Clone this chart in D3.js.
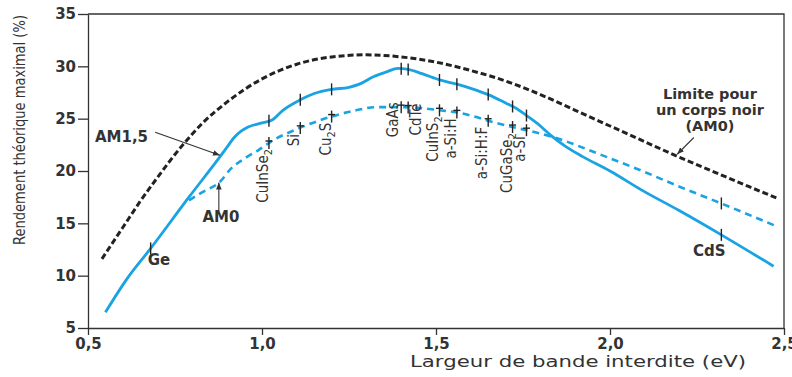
<!DOCTYPE html>
<html>
<head>
<meta charset="utf-8">
<script src="https://cdn.jsdelivr.net/npm/d3@7"></script>
<style>
  body { margin: 0; background: #fff; }
  svg { display: block; }
  .axis path, .axis line { stroke: #333; stroke-width: 1.3; }
  .axis text { font-family: "DejaVu Sans", sans-serif; font-weight: bold; font-size: 15px; fill: #333; }
  .title { font-family: "DejaVu Sans", sans-serif; font-size: 16px; fill: #333; }
  .ytitle { font-family: "Liberation Sans Narrow", "Arial Narrow", "DejaVu Sans Condensed", sans-serif; font-size: 16px; fill: #333; }
  .note { font-family: "DejaVu Sans", sans-serif; font-weight: bold; font-size: 15px; fill: #333; }
  .mat { font-family: "Liberation Sans Narrow", "Arial Narrow", "DejaVu Sans Condensed", sans-serif; font-size: 15px; fill: #333; }
  .mark { stroke: #222; stroke-width: 1.4; }
</style>
</head>
<body>
<svg id="chart" width="792" height="377"></svg>
<script>
// axis ticks
const xTicks = [0.5, 1.0, 1.5, 2.0, 2.5];
const yTicks = [5, 10, 15, 20, 25, 30, 35];

// black body limit (AM0), dashed black
const bbGap = [0.54, 0.60, 0.65, 0.70, 0.77, 0.83, 0.90, 1.00, 1.10, 1.20, 1.30, 1.40, 1.50, 1.60, 1.70, 1.80, 1.90, 2.00, 2.10, 2.20, 2.30, 2.40, 2.48];
const bbEff = [11.6, 14.6, 17.1, 19.4, 22.4, 24.6, 26.6, 28.8, 30.2, 30.9, 31.1, 30.9, 30.4, 29.6, 28.6, 27.3, 25.8, 24.3, 22.8, 21.3, 19.9, 18.5, 17.4];

// AM1,5 spectrum, solid blue
const am15Gap = [0.55, 0.61, 0.68, 0.79, 0.88, 0.90, 0.92, 0.94, 0.96, 1.00, 1.03, 1.06, 1.11, 1.15, 1.20, 1.25, 1.28, 1.32, 1.36, 1.39, 1.42, 1.46, 1.51, 1.56, 1.60, 1.65, 1.70, 1.73, 1.76, 1.80, 1.83, 1.87, 1.92, 2.00, 2.09, 2.20, 2.32, 2.47];
const am15Eff = [6.5, 9.6, 12.6, 17.5, 21.4, 22.3, 23.2, 23.8, 24.2, 24.6, 24.9, 25.8, 26.8, 27.4, 27.8, 28.0, 28.3, 29.0, 29.5, 29.8, 29.7, 29.3, 28.7, 28.3, 27.9, 27.3, 26.5, 26.0, 25.3, 24.3, 23.4, 22.4, 21.4, 20.0, 18.2, 16.2, 13.9, 10.9];

// AM0 spectrum, dashed blue
const am0Gap = [0.79, 0.83, 0.88, 0.91, 0.95, 0.99, 1.03, 1.10, 1.20, 1.27, 1.33, 1.40, 1.46, 1.51, 1.56, 1.61, 1.65, 1.72, 1.76, 1.85, 1.97, 2.10, 2.20, 2.32, 2.48];
const am0Eff = [17.2, 18.0, 19.0, 20.2, 21.2, 22.0, 22.9, 24.0, 25.2, 25.8, 26.1, 26.1, 26.0, 25.8, 25.6, 25.2, 24.8, 24.2, 23.9, 23.1, 21.6, 19.9, 18.5, 16.9, 14.7];

// materials and their band gap (eV); "_" marks a subscript digit
const materials = ["Ge", "CuInSe_2", "Si", "Cu_2S", "GaAs", "CdTe", "CuInS_2", "a-Si:H", "a-Si:H:F", "CuGaSe_2", "a-Si", "CdS"];
const materialGap = [0.68, 1.02, 1.11, 1.20, 1.40, 1.42, 1.51, 1.56, 1.65, 1.72, 1.76, 2.32];

const margin = {top: 14, right: 8, bottom: 49, left: 88};
const width = 792 - margin.left - margin.right;
const height = 377 - margin.top - margin.bottom;

const svg = d3.select("#chart");
const g = svg.append("g").attr("transform", "translate(" + margin.left + "," + margin.top + ")");

const x = d3.scaleLinear().domain([0.5, 2.5]).range([0, width]);
const y = d3.scaleLinear().domain([5, 35]).range([height, 0]);

const fr = d3.formatLocale({decimal: ",", thousands: " ", grouping: [3], currency: ["", " €"]});

// frame (top and right)
g.append("path")
  .attr("d", "M0,0H" + width + "V" + height)
  .attr("fill", "none").attr("stroke", "#333").attr("stroke-width", 1.3);

g.append("g").attr("class", "axis")
  .attr("transform", "translate(0," + height + ")")
  .call(d3.axisBottom(x).tickValues(xTicks).tickSize(7).tickSizeOuter(0).tickPadding(3).tickFormat(fr.format(".1f")));

g.append("g").attr("class", "axis")
  .call(d3.axisLeft(y).tickValues(yTicks).tickSize(10).tickSizeOuter(0).tickPadding(2));

// axis titles
svg.append("text").attr("class", "title")
  .attr("x", 410).attr("y", 367)
  .attr("textLength", 336).attr("lengthAdjust", "spacingAndGlyphs")
  .text("Largeur de bande interdite (eV)");

svg.append("text").attr("class", "ytitle")
  .attr("transform", "translate(25,130) rotate(-90)")
  .attr("text-anchor", "middle")
  .attr("textLength", 230).attr("lengthAdjust", "spacingAndGlyphs")
  .text("Rendement théorique maximal (%)");

// curves
const line = (gaps, effs) => d3.line()
  .x((d, i) => x(gaps[i]))
  .y(d => y(d))
  .curve(d3.curveMonotoneX)(effs);

g.append("path").attr("d", line(bbGap, bbEff))
  .attr("fill", "none").attr("stroke", "#222").attr("stroke-width", 3).attr("stroke-dasharray", "6,3");

g.append("path").attr("d", line(am0Gap, am0Eff))
  .attr("fill", "none").attr("stroke", "#1aa3e3").attr("stroke-width", 2.6).attr("stroke-dasharray", "7,5");

g.append("path").attr("d", line(am15Gap, am15Eff))
  .attr("fill", "none").attr("stroke", "#1aa3e3").attr("stroke-width", 2.8);

// efficiency read on each curve at a given gap
const onAm15 = d3.scaleLinear().domain(am15Gap).range(am15Eff);
const onAm0 = d3.scaleLinear().domain(am0Gap).range(am0Eff);

// label placement relative to the mark on the dashed curve
const labelShift = {"GaAs": {dx: -3, dy: -5}, "CdTe": {dx: 13, dy: -4}};

function addLabel(sel, name) {
  let back = 0;
  name.split(/(_\d)/).filter(s => s).forEach(part => {
    if (part[0] === "_") {
      sel.append("tspan").attr("dy", 4).attr("font-size", "11px").text(part.slice(1));
      back = -4;
    } else {
      sel.append("tspan").attr("dy", back).text(part);
      back = 0;
    }
  });
}

materials.forEach((name, i) => {
  const gx = x(materialGap[i]);
  const ys = y(onAm15(materialGap[i]));
  g.append("line").attr("class", "mark")
    .attr("x1", gx).attr("x2", gx).attr("y1", ys - 6).attr("y2", ys + 6);

  if (name === "Ge") {
    g.append("text").attr("class", "note").attr("x", gx - 3).attr("y", ys + 17).text("Ge");
    return;
  }
  const yd = y(onAm0(materialGap[i]));
  g.append("line").attr("class", "mark")
    .attr("x1", gx).attr("x2", gx).attr("y1", yd - 6).attr("y2", yd + 6);
  if (name === "CdS") {
    g.append("text").attr("class", "note").attr("x", gx - 12).attr("y", ys + 21)
      .attr("text-anchor", "middle").text("CdS");
    return;
  }
  g.append("line").attr("class", "mark")
    .attr("x1", gx - 3.5).attr("x2", gx + 3.5).attr("y1", yd - 2).attr("y2", yd - 2);

  const s = labelShift[name] || {dx: -1, dy: 6};
  const t = g.append("text").attr("class", "mat")
    .attr("text-anchor", "end")
    .attr("transform", "translate(" + (gx + s.dx) + "," + (yd + s.dy) + ") rotate(-90)");
  addLabel(t, name);
});

// annotations with arrows (gap, efficiency)
svg.append("defs").append("marker")
  .attr("id", "arrow").attr("viewBox", "0 0 10 10")
  .attr("refX", 10).attr("refY", 5)
  .attr("markerWidth", 7).attr("markerHeight", 7)
  .attr("markerUnits", "userSpaceOnUse")
  .attr("orient", "auto")
  .append("path").attr("d", "M0,1L10,5L0,9Z").attr("fill", "#333");

const arrows = [
  {from: [0.693, 23.7], to: [0.879, 21.5]},
  {from: [0.876, 16.2], to: [0.876, 18.9]},
  {from: [2.241, 23.2], to: [2.193, 21.6]}
];
arrows.forEach(a => {
  g.append("line")
    .attr("x1", x(a.from[0])).attr("y1", y(a.from[1]))
    .attr("x2", x(a.to[0])).attr("y2", y(a.to[1]))
    .attr("stroke", "#333").attr("stroke-width", 1.1)
    .attr("marker-end", "url(#arrow)");
});

g.append("text").attr("class", "note").attr("x", x(0.52)).attr("y", y(22.8)).text("AM1,5");
g.append("text").attr("class", "note").attr("x", x(0.882)).attr("y", y(15.1))
  .attr("text-anchor", "middle").text("AM0");

const bb = g.append("text").attr("class", "note").attr("text-anchor", "middle").style("font-size", "14.5px");
["Limite pour", "un corps noir", "(AM0)"].forEach((s, i) => {
  bb.append("tspan").attr("x", x(2.287)).attr("y", y(26.9) + i * 16).text(s);
});
</script>
</body>
</html>
